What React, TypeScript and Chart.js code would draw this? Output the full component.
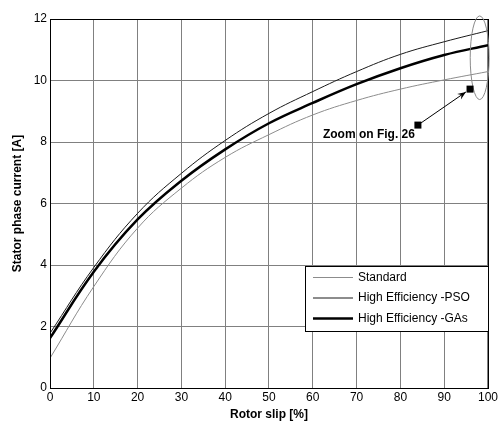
import React, { useEffect, useRef } from "react";
import { Chart, registerables } from "chart.js";

Chart.register(...registerables);

// Rotor slip [%] sample points
const slip = [0, 10, 20, 30, 40, 50, 60, 70, 80, 90, 100];
// Stator phase current [A] for each machine design
const standard = [0.97, 3.3, 5.2, 6.5, 7.5, 8.24, 8.88, 9.35, 9.72, 10.02, 10.29];
const highEffPSO = [1.78, 3.92, 5.68, 6.98, 8.05, 8.93, 9.64, 10.29, 10.85, 11.26, 11.62];
const highEffGAs = [1.62, 3.78, 5.48, 6.74, 7.76, 8.61, 9.27, 9.88, 10.4, 10.83, 11.15];

const seriesNames = ["Standard", "High Efficiency -PSO", "High Efficiency -GAs"];
const seriesColors = ["#8c8c8c", "#1a1a1a", "#000000"];
const seriesWidths = [1, 1, 2.5];

const xTitle = "Rotor slip [%]";
const yTitle = "Stator phase current [A]";

// Callout: ellipse around the curve ends and an arrow with a label
const zoomLabel = "Zoom on Fig. 26";
const zoomEllipse = { x: 98.1, y: 10.74, rx: 2.16, ry: 1.36 };
const arrowFrom = { x: 84.0, y: 8.55 };
const arrowTo = { x: 95.9, y: 9.72 };

const FONT = "'Liberation Sans', Arial, Helvetica, sans-serif";

const toPoints = (ys: number[]) => slip.map((x, i) => ({ x, y: ys[i] }));

const overlayPlugin = {
  id: "overlay",
  afterDraw(chart: any) {
    const { ctx, chartArea, scales } = chart;
    const xs = scales.x;
    const ys = scales.y;
    ctx.save();

    // Frame around the plot area
    ctx.strokeStyle = "#000";
    ctx.lineWidth = 1;
    ctx.strokeRect(
      Math.round(chartArea.left) + 0.5,
      Math.round(chartArea.top) + 0.5,
      Math.round(chartArea.right - chartArea.left),
      Math.round(chartArea.bottom - chartArea.top)
    );

    // Ellipse around the curve ends
    const ecx = xs.getPixelForValue(zoomEllipse.x);
    const ecy = ys.getPixelForValue(zoomEllipse.y);
    const erx = Math.abs(xs.getPixelForValue(zoomEllipse.x + zoomEllipse.rx) - ecx);
    const ery = Math.abs(ys.getPixelForValue(zoomEllipse.y + zoomEllipse.ry) - ecy);
    ctx.beginPath();
    ctx.ellipse(ecx, ecy, erx, ery, 0, 0, Math.PI * 2);
    ctx.strokeStyle = "#8a8a8a";
    ctx.lineWidth = 1;
    ctx.stroke();

    // Arrow between the two square markers
    const ax0 = xs.getPixelForValue(arrowFrom.x);
    const ay0 = ys.getPixelForValue(arrowFrom.y);
    const ax1 = xs.getPixelForValue(arrowTo.x);
    const ay1 = ys.getPixelForValue(arrowTo.y);
    const ang = Math.atan2(ay1 - ay0, ax1 - ax0);
    const tipX = ax1 - Math.cos(ang) * 5;
    const tipY = ay1 - Math.sin(ang) * 5;
    ctx.strokeStyle = "#000";
    ctx.fillStyle = "#000";
    ctx.lineWidth = 1;
    ctx.beginPath();
    ctx.moveTo(ax0, ay0);
    ctx.lineTo(tipX, tipY);
    ctx.stroke();
    const headLen = 9;
    const headW = 0.38;
    ctx.beginPath();
    ctx.moveTo(tipX, tipY);
    ctx.lineTo(tipX - headLen * Math.cos(ang - headW), tipY - headLen * Math.sin(ang - headW));
    ctx.lineTo(tipX - headLen * 0.6 * Math.cos(ang), tipY - headLen * 0.6 * Math.sin(ang));
    ctx.lineTo(tipX - headLen * Math.cos(ang + headW), tipY - headLen * Math.sin(ang + headW));
    ctx.closePath();
    ctx.fill();

    // Square markers
    const sq = 7;
    ctx.fillRect(ax0 - sq / 2, ay0 - sq / 2, sq, sq);
    ctx.fillRect(ax1 - sq / 2, ay1 - sq / 2, sq, sq);

    // Callout label
    ctx.font = `bold 12px ${FONT}`;
    ctx.textAlign = "right";
    ctx.textBaseline = "alphabetic";
    ctx.fillText(zoomLabel, ax0 - 3, ay0 + 13);

    // Legend box in the lower right of the plot
    const boxRight = chartArea.right;
    const boxLeft = boxRight - 183;
    const boxTop = chartArea.bottom - 122;
    const boxBottom = chartArea.bottom - 57;
    ctx.fillStyle = "#fff";
    ctx.fillRect(boxLeft, boxTop, boxRight - boxLeft, boxBottom - boxTop);
    ctx.strokeStyle = "#000";
    ctx.lineWidth = 1;
    ctx.strokeRect(Math.round(boxLeft) + 0.5, Math.round(boxTop) + 0.5, Math.round(boxRight - boxLeft), Math.round(boxBottom - boxTop));
    ctx.font = `12px ${FONT}`;
    ctx.textAlign = "left";
    ctx.textBaseline = "middle";
    seriesNames.forEach((name, i) => {
      const rowY = boxTop + 11.5 + i * 20.5;
      ctx.beginPath();
      ctx.moveTo(boxLeft + 8, rowY);
      ctx.lineTo(boxLeft + 48, rowY);
      ctx.strokeStyle = seriesColors[i];
      ctx.lineWidth = seriesWidths[i];
      ctx.stroke();
      ctx.fillStyle = "#000";
      ctx.fillText(name, boxLeft + 53, rowY);
    });

    ctx.restore();
  },
};

export default function App() {
  const canvasRef = useRef<HTMLCanvasElement | null>(null);

  useEffect(() => {
    document.body.style.margin = "0";
    const canvas = canvasRef.current;
    if (!canvas) return;

    const chart = new Chart(canvas, {
      type: "line",
      data: {
        datasets: [
          { label: seriesNames[0], data: toPoints(standard), borderColor: seriesColors[0], borderWidth: seriesWidths[0] },
          { label: seriesNames[1], data: toPoints(highEffPSO), borderColor: seriesColors[1], borderWidth: seriesWidths[1] },
          { label: seriesNames[2], data: toPoints(highEffGAs), borderColor: seriesColors[2], borderWidth: seriesWidths[2] },
        ].map((d) => ({ ...d, pointRadius: 0, fill: false, tension: 0.4 })),
      },
      options: {
        responsive: false,
        animation: false,
        events: [],
        layout: { padding: { top: 19, right: 10, left: 0, bottom: 0 } },
        plugins: { legend: { display: false }, tooltip: { enabled: false } },
        scales: {
          x: {
            type: "linear",
            min: 0,
            max: 100,
            ticks: { stepSize: 10, color: "#000", font: { family: FONT, size: 12 }, padding: 2, maxRotation: 0 },
            grid: { color: "#808080", lineWidth: 1, drawTicks: false },
            border: { color: "#000" },
            title: { display: true, text: xTitle, color: "#000", font: { family: FONT, size: 12, weight: "bold" }, padding: { top: 0, bottom: 4 } },
            afterFit: (s: any) => { s.height = 38; },
          },
          y: {
            type: "linear",
            min: 0,
            max: 12,
            ticks: { stepSize: 2, color: "#000", font: { family: FONT, size: 12 }, padding: 3 },
            grid: { color: "#808080", lineWidth: 1, drawTicks: false },
            border: { color: "#000" },
            title: { display: true, text: yTitle, color: "#000", font: { family: FONT, size: 12, weight: "bold" }, padding: { top: 10, bottom: 0 } },
            afterFit: (s: any) => { s.width = 50; },
          },
        },
      },
      plugins: [overlayPlugin],
    });

    return () => chart.destroy();
  }, []);

  return <canvas ref={canvasRef} width={500} height={426} style={{ display: "block" }} />;
}
